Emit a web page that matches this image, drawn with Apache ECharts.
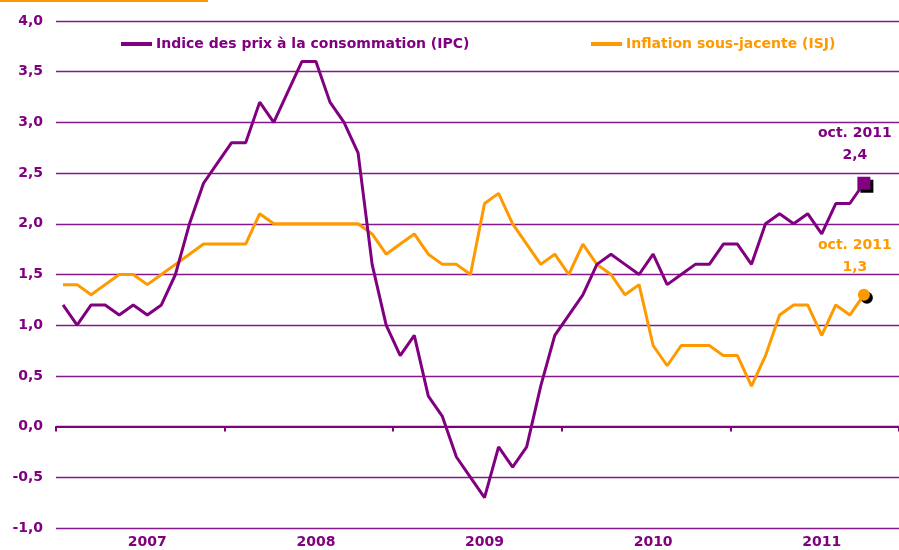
<!DOCTYPE html>
<html>
<head>
<meta charset="utf-8">
<script src="https://cdn.jsdelivr.net/npm/echarts@6/dist/echarts.min.js"></script>
<style>
  html, body { margin: 0; padding: 0; background: #fff; }
  #chart { width: 899px; height: 550px; }
</style>
</head>
<body>
<div id="chart"></div>
<script>
  // axe mensuel jan. 2007 - déc. 2011 (les 2 derniers mois sans données)
  const years = ['2007', '2008', '2009', '2010', '2011'];
  const months = [];
  years.forEach(y => { for (let m = 1; m <= 12; m++) months.push(y + '-' + (m < 10 ? '0' + m : m)); });

  const ipc = [
    1.2, 1.0, 1.2, 1.2, 1.1, 1.2, 1.1, 1.2, 1.5, 2.0, 2.4, 2.6,
    2.8, 2.8, 3.2, 3.0, 3.3, 3.6, 3.6, 3.2, 3.0, 2.7, 1.6, 1.0,
    0.7, 0.9, 0.3, 0.1, -0.3, -0.5, -0.7, -0.2, -0.4, -0.2, 0.4, 0.9,
    1.1, 1.3, 1.6, 1.7, 1.6, 1.5, 1.7, 1.4, 1.5, 1.6, 1.6, 1.8,
    1.8, 1.6, 2.0, 2.1, 2.0, 2.1, 1.9, 2.2, 2.2, 2.4
  ];
  const isj = [
    1.4, 1.4, 1.3, 1.4, 1.5, 1.5, 1.4, 1.5, 1.6, 1.7, 1.8, 1.8,
    1.8, 1.8, 2.1, 2.0, 2.0, 2.0, 2.0, 2.0, 2.0, 2.0, 1.9, 1.7,
    1.8, 1.9, 1.7, 1.6, 1.6, 1.5, 2.2, 2.3, 2.0, 1.8, 1.6, 1.7,
    1.5, 1.8, 1.6, 1.5, 1.3, 1.4, 0.8, 0.6, 0.8, 0.8, 0.8, 0.7,
    0.7, 0.4, 0.7, 1.1, 1.2, 1.2, 0.9, 1.2, 1.1, 1.3
  ];
  const lastLabel = 'oct. 2011';

  const PURPLE = '#800080';
  const ORANGE = '#ff9900';
  const FONT = 'DejaVu Sans';
  const fmt = v => v.toFixed(1).replace('.', ',');

  const chart = echarts.init(document.getElementById('chart'));
  const last = ipc.length - 1;

  const endLabel = color => ({
    show: true,
    position: 'top',
    distance: 10,
    offset: [-9, 0],
    color: color,
    opacity: 1,
    fontFamily: FONT,
    fontWeight: 'bold',
    fontSize: 14,
    lineHeight: 22,
    align: 'center',
    formatter: p => lastLabel + '\n' + fmt(p.value[1])
  });

  const option = {
    backgroundColor: '#fff',
    animation: false,
    textStyle: { fontFamily: FONT },
    graphic: [{
      type: 'rect', left: 0, top: 0,
      shape: { width: 208, height: 2 },
      style: { fill: ORANGE }
    }],
    legend: [
      {
        left: 116, top: 32, icon: 'rect', itemWidth: 31, itemHeight: 4, itemGap: 4,
        data: [{ name: 'Indice des prix à la consommation (IPC)' }],
        textStyle: { color: PURPLE, fontFamily: FONT, fontWeight: 'bold', fontSize: 14, padding: [0, 0, 0, -1] }
      },
      {
        left: 586, top: 32, icon: 'rect', itemWidth: 31, itemHeight: 4, itemGap: 4,
        data: [{ name: 'Inflation sous-jacente (ISJ)' }],
        textStyle: { color: ORANGE, fontFamily: FONT, fontWeight: 'bold', fontSize: 14, padding: [0, 0, 0, -1] }
      }
    ],
    grid: { left: 56, top: 21, width: 846, height: 507, containLabel: false },
    xAxis: [
      {
        type: 'category',
        data: months,
        boundaryGap: true,
        position: 'bottom',
        axisLine: { show: false, onZero: false },
        axisTick: { show: false },
        axisLabel: {
          interval: (i) => i % 12 === 6,
          formatter: (v, i) => years[Math.floor(i / 12)],
          color: PURPLE, fontFamily: FONT, fontWeight: 'bold', fontSize: 14, margin: 7
        },
        splitLine: { show: false }
      },
      {
        type: 'category',
        data: months,
        boundaryGap: true,
        position: 'bottom',
        axisLine: { show: true, onZero: true, onZeroAxisIndex: 0, lineStyle: { color: PURPLE, width: 2 } },
        axisTick: { show: true, interval: 11, length: 5, lineStyle: { color: PURPLE, width: 2 } },
        axisLabel: { show: false },
        splitLine: { show: false }
      }
    ],
    yAxis: {
      type: 'value',
      min: -1,
      max: 4,
      interval: 0.5,
      axisLine: { show: false },
      axisTick: { show: false },
      axisLabel: {
        formatter: v => fmt(v),
        color: PURPLE, fontFamily: FONT, fontWeight: 'bold', fontSize: 14, margin: 13
      },
      splitLine: { lineStyle: { color: '#84198a', width: 1.3 } }
    },
    series: [
      {
        name: 'Inflation sous-jacente (ISJ)',
        type: 'line',
        data: isj,
        symbol: 'none',
        lineStyle: { color: ORANGE, width: 3 },
        itemStyle: { color: ORANGE }
      },
      {
        name: 'Indice des prix à la consommation (IPC)',
        type: 'line',
        data: ipc,
        symbol: 'none',
        lineStyle: { color: PURPLE, width: 3 },
        itemStyle: { color: PURPLE }
      },
      {
        type: 'scatter',
        data: [[last, isj[last]]],
        symbol: 'circle',
        symbolSize: 12,
        z: 5,
        itemStyle: { color: ORANGE, opacity: 1, shadowColor: '#000', shadowOffsetX: 3, shadowOffsetY: 3, shadowBlur: 0 },
        label: endLabel(ORANGE)
      },
      {
        type: 'scatter',
        data: [[last, ipc[last]]],
        symbol: 'rect',
        symbolSize: 13,
        z: 5,
        itemStyle: { color: PURPLE, opacity: 1, shadowColor: '#000', shadowOffsetX: 3, shadowOffsetY: 3, shadowBlur: 0 },
        label: endLabel(PURPLE)
      }
    ]
  };

  chart.setOption(option);
</script>
</body>
</html>
